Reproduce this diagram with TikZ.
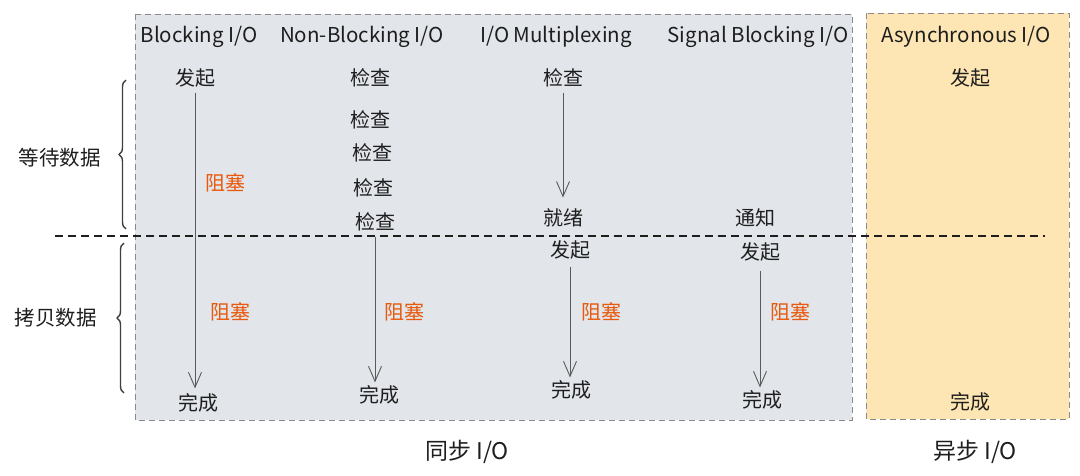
\documentclass[tikz,border=0pt]{standalone}
\usepackage{fontspec}
\setmainfont{Noto Sans CJK SC}
\usetikzlibrary{arrows.meta,decorations.pathreplacing}
\definecolor{ink}{HTML}{1E1E1E}
\definecolor{grayfill}{HTML}{E2E5EA}
\definecolor{orangefill}{HTML}{FDE6B3}
\definecolor{boxline}{HTML}{8A8A8A}
\definecolor{blockc}{HTML}{E8590C}
\definecolor{arrowc}{HTML}{5A5A5A}
\begin{document}
\begin{tikzpicture}[x=1pt,y=-1pt,
  lbl/.style={font=\fontsize{20}{22}\selectfont, text=ink, inner sep=1pt},
  hd/.style={font=\fontsize{20.5}{24}\selectfont, text=ink, inner sep=1pt},
  blk/.style={font=\fontsize{20}{22}\selectfont, text=blockc, inner sep=1pt},
  side/.style={font=\fontsize{20.5}{22}\selectfont, text=ink, inner sep=1pt},
  bottom/.style={font=\fontsize{23}{26}\selectfont, text=ink, inner sep=1pt},
  box/.style={draw=boxline, line width=0.9pt, dash pattern=on 6pt off 4pt},
  arr/.style={draw=arrowc, line width=0.9pt, -{Straight Barb[length=15pt,width=13pt]}},
  sep/.style={draw=ink, line width=1.3pt, dash pattern=on 8pt off 5pt},
  brc/.style={draw=ink!85, line width=1.4pt, decorate, decoration={brace, amplitude=7pt}}
]
\useasboundingbox (0,0) rectangle (1080,476);

% boxes
\draw[box, fill=grayfill] (135,14) rectangle (852,420);
\draw[box, fill=orangefill] (866,13) rectangle (1069,419);

% separator
\coordinate (sepL) at (55,236);
\coordinate (sepR) at (1045,236);
\draw[sep] (sepL) -- (sepR);

% braces
\coordinate (b1top) at (126,80);
\coordinate (b1bot) at (126,229);
\coordinate (b2top) at (124,243);
\coordinate (b2bot) at (124,393);
\draw[brc] (b1bot) -- (b1top);
\draw[brc] (b2bot) -- (b2top);
\node[side] (wait) at (60,158) {等待数据};
\node[side] (copy) at (56,318) {拷贝数据};

% headings
\node[hd] (h1) at (199,37) {Blocking I/O};
\node[hd] (h2) at (362,37) {Non-Blocking I/O};
\node[hd] (h3) at (556,37) {I/O Multiplexing};
\node[hd] (h4) at (758,37) {Signal Blocking I/O};
\node[hd] (h5) at (966,37) {Asynchronous I/O};

% column 1
\node[lbl] (s1) at (195,78) {发起};
\node[lbl] (d1) at (198,403) {完成};
\node[blk] (k1a) at (225,183) {阻塞};
\node[blk] (k1b) at (230,312) {阻塞};
\draw[arr, shorten <=4pt, shorten >=4pt] (s1.south) -- (s1.south |- d1.north);

% column 2
\node[lbl] (c2a) at (370,78) {检查};
\node[lbl] (c2b) at (370,120) {检查};
\node[lbl] (c2c) at (372,153) {检查};
\node[lbl] (c2d) at (373,188) {检查};
\node[lbl] (c2e) at (375,222) {检查};
\node[lbl] (d2) at (379,395) {完成};
\node[blk] (k2) at (404,312) {阻塞};
\draw[arr, shorten <=5pt, shorten >=2pt] (c2e.south) -- (c2e.south |- d2.north);

% column 3
\node[lbl] (c3) at (563,78) {检查};
\node[lbl] (r3) at (563,218) {就绪};
\node[lbl] (s3) at (570,250) {发起};
\node[lbl] (d3) at (571,390) {完成};
\node[blk] (k3) at (601,312) {阻塞};
\draw[arr, shorten <=5pt, shorten >=10pt] (c3.south) -- (c3.south |- r3.north);
\draw[arr, shorten <=6pt, shorten >=2pt] (s3.south) -- (s3.south |- d3.north);

% column 4
\node[lbl] (n4) at (755,218) {通知};
\node[lbl] (s4) at (760,252) {发起};
\node[lbl] (d4) at (762,400) {完成};
\node[blk] (k4) at (790,312) {阻塞};
\draw[arr, shorten <=8pt, shorten >=2pt] (s4.south) -- (s4.south |- d4.north);

% column 5
\node[lbl] (s5) at (970,78) {发起};
\node[lbl] (d5) at (970,402) {完成};

% bottom labels
\node[bottom] (sync) at (467,452) {同步 I/O};
\node[bottom] (async) at (975,452) {异步 I/O};
\end{tikzpicture}
\end{document}
